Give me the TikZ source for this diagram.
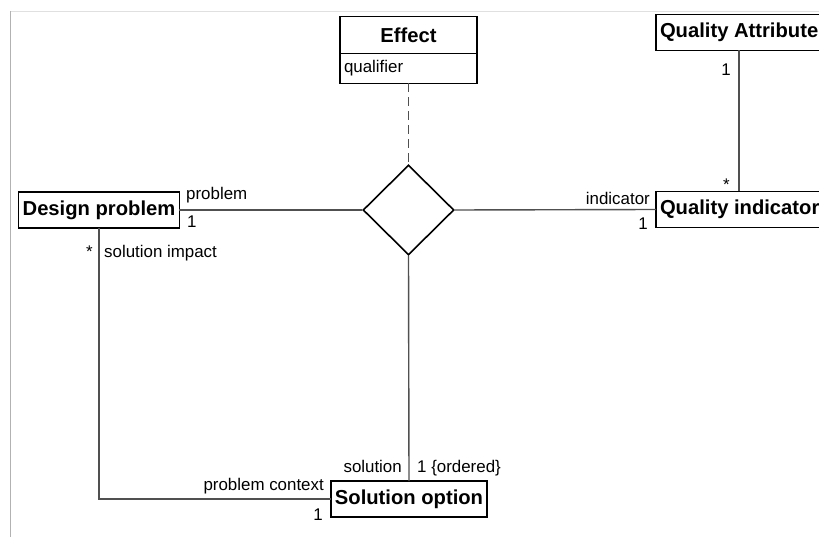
\documentclass[tikz,border=0pt]{standalone}
\usepackage{fontspec}
\setmainfont{Liberation Sans}
\usetikzlibrary{shapes.geometric}
\definecolor{linegray}{HTML}{505050}
\begin{document}
\begin{tikzpicture}[x=1pt,y=-1pt,
    cls/.style={draw, line width=1.6pt, outer sep=0pt, inner xsep=4pt, inner ysep=0pt, minimum height=36pt, font=\fontsize{20.2}{24}\selectfont\bfseries},
    lbl/.style={inner sep=0pt, font=\fontsize{16.9}{20}\selectfont},
    assoc/.style={draw=linegray, line width=1.4pt}]
            \clip (0,0) rectangle (819,537);
            \draw[black!12] (10,11) -- (819,11);
            \draw[black!30] (10,11) -- (10,537);

            \node[cls] (P) at (99,210) {Design problem};
            \node[cls] (S) at (409,499) {Solution option};
            \node[cls, anchor=west] (A) at (656,32.5) {Quality Attribute};
            \node[cls, anchor=west] (I) at (656,209.5) {Quality indicator};
            \node[cls, minimum width=137pt, minimum height=37pt] (E) at (408.5,35) {Effect};
            \node[draw, line width=1.6pt, outer sep=0pt, anchor=north, inner xsep=4pt, inner ysep=0pt, minimum height=30pt,
                  text width=129pt, align=left, font=\fontsize{16.9}{20}\selectfont] (Q) at (E.south) {qualifier};
            \node[draw, line width=1.6pt, diamond, minimum width=91pt, minimum height=90pt, inner sep=0pt] (D) at (408.5,210) {};

            \node[lbl, anchor=base west] at (186,200) {problem};
            \node[lbl, anchor=base west] at (187,228) {1};
            \node[lbl, anchor=base east] at (93,258) {*};
            \node[lbl, anchor=base west] at (104,258) {solution impact};
            \node[lbl, anchor=base east] at (650,205) {indicator};
            \node[lbl, anchor=base east] at (648,230) {1};
            \node[lbl, anchor=base east] at (731,76) {1};
            \node[lbl, anchor=base east] at (730,191) {*};
            \node[lbl, anchor=base east] at (402,472) {solution};
            \node[lbl, anchor=base west] at (417,472) {1 \{ordered\}};
            \node[lbl, anchor=base east] at (324,490) {problem context};
            \node[lbl, anchor=base east] at (323,520) {1};

            \draw[assoc, dash pattern=on 9pt off 5pt] (Q.south) -- (D.north);
            \draw[assoc] (P.east) -- (D.west);
            \draw[assoc] (D.east) -- (I.west);
            \draw[assoc] (D.south) -- (S.north);
            \draw[assoc] (A.south) -- (A.south |- I.north);
            \draw[assoc] (P.south) |- (S.west);
        \end{tikzpicture}
\end{document}
